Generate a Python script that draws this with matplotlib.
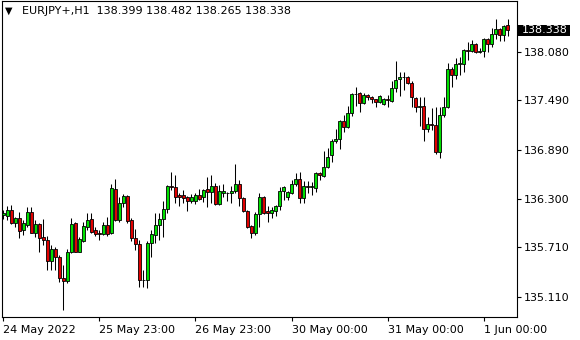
import numpy as np
import matplotlib
matplotlib.use("Agg")
import matplotlib.pyplot as plt
from matplotlib.patches import Rectangle
from matplotlib.transforms import blended_transform_factory

symbol = "EURJPY+,H1"

opens = [
    136.097, 136.089, 136.162, 136.000, 136.065, 135.919, 135.980, 136.137, 135.886, 135.992,
    135.834, 135.798, 135.547, 135.689, 135.596, 135.337, 135.305, 135.649, 136.000, 135.656,
    135.789, 135.959, 136.052, 135.919, 135.886, 135.871, 135.980, 135.879, 136.413, 136.040,
    136.243, 136.331, 136.040, 135.822, 135.749, 135.313, 135.313, 135.762, 135.859, 135.980,
    136.052, 136.174, 136.452, 136.440, 136.343, 136.343, 136.319, 136.271, 136.271, 136.343,
    136.319, 136.416, 136.380, 136.452, 136.234, 136.368, 136.368, 136.368, 136.392, 136.477,
    136.307, 136.150, 135.968, 135.883, 136.113, 136.319, 136.150, 136.125, 136.150, 136.210,
    136.392, 136.319, 136.368, 136.477, 136.537, 136.307, 136.452, 136.445, 136.428, 136.610,
    136.574, 136.683, 136.828, 136.998, 137.022, 137.240, 137.168, 137.337, 137.568, 137.580,
    137.459, 137.556, 137.531, 137.507, 137.471, 137.446, 137.507, 137.483, 137.640, 137.749,
    137.774, 137.774, 137.701, 137.519, 137.410, 137.422, 137.143, 137.204, 137.192, 136.865,
    137.313, 137.410, 137.871, 137.798, 137.931, 137.931, 138.101, 138.089, 138.174, 138.077,
    138.089, 138.234, 138.174, 138.295, 138.355, 138.283, 138.399]

highs = [
    136.162, 136.210, 136.222, 136.080, 136.141, 136.040, 136.194, 136.194, 136.040, 136.008,
    136.049, 135.846, 135.737, 135.709, 135.616, 135.495, 135.689, 136.061, 136.020, 135.838,
    136.020, 136.129, 136.129, 135.959, 135.919, 136.020, 136.080, 136.477, 136.534, 136.323,
    136.355, 136.343, 136.065, 135.931, 135.798, 135.434, 135.786, 135.919, 136.125, 136.125,
    136.271, 136.465, 136.622, 136.586, 136.368, 136.404, 136.331, 136.355, 136.368, 136.416,
    136.416, 136.562, 136.586, 136.489, 136.465, 136.477, 136.380, 136.452, 136.719, 136.525,
    136.319, 136.162, 135.980, 136.137, 136.368, 136.331, 136.210, 136.198, 136.222, 136.440,
    136.452, 136.392, 136.525, 136.610, 136.622, 136.513, 136.513, 136.501, 136.622, 136.622,
    136.877, 136.913, 137.022, 137.143, 137.253, 137.313, 137.422, 137.580, 137.652, 137.592,
    137.580, 137.568, 137.543, 137.510, 137.556, 137.519, 137.556, 137.725, 137.968, 137.834,
    137.834, 137.780, 137.725, 137.531, 137.531, 137.531, 137.289, 137.398, 137.410, 137.410,
    137.531, 137.943, 137.895, 138.004, 138.016, 138.113, 138.198, 138.222, 138.186, 138.125,
    138.246, 138.246, 138.368, 138.477, 138.368, 138.404, 138.482]

lows = [
    136.052, 136.040, 135.992, 135.959, 135.819, 135.859, 135.952, 135.879, 135.838, 135.656,
    135.737, 135.434, 135.434, 135.434, 135.292, 134.949, 135.280, 135.637, 135.650, 135.650,
    135.777, 135.919, 135.879, 135.846, 135.798, 135.859, 135.846, 135.871, 136.032, 136.020,
    136.202, 136.000, 135.786, 135.677, 135.228, 135.228, 135.216, 135.592, 135.762, 135.798,
    135.834, 136.125, 136.404, 136.246, 136.210, 136.246, 136.150, 136.246, 136.234, 136.283,
    136.259, 136.198, 136.246, 136.222, 136.222, 136.319, 136.271, 136.246, 136.368, 136.210,
    136.137, 135.943, 135.822, 135.859, 135.955, 136.113, 136.016, 136.065, 136.089, 136.162,
    136.283, 136.283, 136.355, 136.452, 136.246, 136.246, 136.368, 136.343, 136.380, 136.525,
    136.562, 136.671, 136.743, 136.974, 136.901, 137.107, 137.160, 137.301, 137.422, 137.349,
    137.447, 137.495, 137.459, 137.410, 137.459, 137.434, 137.410, 137.471, 137.592, 137.543,
    137.616, 137.689, 137.410, 137.349, 137.180, 136.998, 137.107, 137.131, 136.840, 136.792,
    137.289, 137.400, 137.652, 137.749, 137.798, 137.834, 137.980, 138.077, 138.065, 138.065,
    138.016, 138.077, 138.137, 138.234, 138.210, 138.210, 138.265]

closes = [
    136.129, 136.162, 136.008, 136.065, 135.911, 136.000, 136.137, 135.886, 135.992, 135.826,
    135.802, 135.547, 135.689, 135.588, 135.334, 135.305, 135.649, 135.992, 135.656, 135.810,
    135.968, 136.040, 135.899, 135.871, 135.867, 135.980, 135.871, 136.425, 136.040, 136.243,
    136.331, 136.032, 135.822, 135.749, 135.313, 135.318, 135.762, 135.871, 135.980, 136.052,
    136.174, 136.452, 136.440, 136.319, 136.319, 136.307, 136.271, 136.319, 136.343, 136.295,
    136.404, 136.380, 136.452, 136.234, 136.392, 136.392, 136.368, 136.392, 136.477, 136.307,
    136.150, 135.955, 135.883, 136.113, 136.319, 136.125, 136.125, 136.162, 136.210, 136.392,
    136.440, 136.380, 136.477, 136.537, 136.307, 136.452, 136.445, 136.452, 136.610, 136.586,
    136.683, 136.804, 136.998, 137.022, 137.240, 137.168, 137.337, 137.568, 137.572, 137.459,
    137.556, 137.531, 137.507, 137.471, 137.543, 137.507, 137.500, 137.640, 137.737, 137.774,
    137.770, 137.701, 137.531, 137.410, 137.422, 137.143, 137.204, 137.198, 136.865, 137.313,
    137.410, 137.871, 137.798, 137.931, 137.943, 138.101, 138.095, 138.174, 138.077, 138.089,
    138.234, 138.174, 138.295, 138.355, 138.283, 138.392, 138.338]

xtick_bars = [0, 24, 48, 72, 96, 120]
xtick_labels = ["24 May 2022", "25 May 23:00", "26 May 23:00",
                "30 May 00:00", "31 May 00:00", "1 Jun 00:00"]
ytick_values = [135.110, 135.710, 136.300, 136.890, 137.490, 138.080]

n = min(len(opens), len(highs), len(lows), len(closes))
o = np.array(opens[:n]); h = np.array(highs[:n])
l = np.array(lows[:n]); c = np.array(closes[:n])
x = np.arange(n)

W, H = 580, 340
fig = plt.figure(figsize=(W / 100, H / 100), dpi=100)
fig.patch.set_facecolor("white")
ax = fig.add_axes([2 / W, 1 - 317 / H, 515 / W, 316 / H])
ax.set_facecolor("white")

bull = c >= o
colors = np.where(bull, "#00e000", "#e00000")

ax.vlines(x, l, h, color="black", linewidth=0.75, zorder=2)
ax.bar(x, np.abs(c - o), bottom=np.minimum(o, c), width=0.72,
       color=colors, edgecolor="black", linewidth=0.6, zorder=3)

ax.set_xlim(-0.33, 128.33)
ax.set_ylim(134.865, 138.695)

ax.set_xticks(xtick_bars)
ax.set_xticklabels(xtick_labels)
for lab in ax.get_xticklabels():
    lab.set_ha("left")
ax.set_yticks(ytick_values)
ax.set_yticklabels([f"{v:.3f}" for v in ytick_values])
ax.yaxis.tick_right()
ax.tick_params(axis="both", direction="out", length=3, width=0.8,
               labelsize=8, colors="black", pad=2)
ax.tick_params(axis="x", pad=2.5)
for sp in ax.spines.values():
    sp.set_linewidth(0.8)
    sp.set_color("black")

# last price box
tr = blended_transform_factory(ax.transAxes, ax.transData)
last = c[-1]
ppu = 316 / (138.695 - 134.865)
bh = 11 / ppu
ax.add_patch(Rectangle((1.0, last - bh / 2), 53 / 515, bh, transform=tr,
                       facecolor="black", edgecolor="none", clip_on=False, zorder=5))
ax.text(1.0 + 5 / 515, last, f"{last:.3f}", transform=tr, color="white",
        fontsize=8, va="center", ha="left", zorder=6, clip_on=False)

# header
fig.text(5 / W, 1 - 11 / H, "\u25BC", fontsize=7, va="center", ha="left", color="black")
fig.text(22 / W, 1 - 11 / H,
         f"{symbol}  {o[-1]:.3f} {h[-1]:.3f} {l[-1]:.3f} {c[-1]:.3f}",
         fontsize=8, va="center", ha="left", color="black")

fig.savefig("out.png", dpi=100, facecolor="white")
